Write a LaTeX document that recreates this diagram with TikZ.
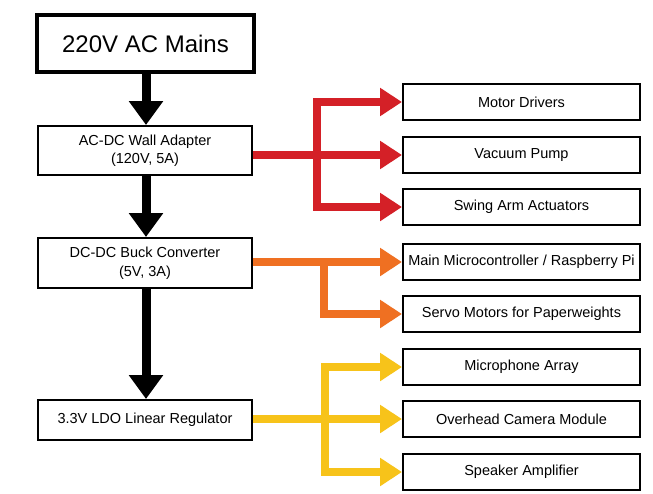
\documentclass[tikz,border=0pt]{standalone}
\usepackage{fontspec}
\setmainfont{Liberation Sans}
\usetikzlibrary{arrows.meta}
\definecolor{cred}{HTML}{D42027}
\definecolor{corange}{HTML}{EF7022}
\definecolor{cyellow}{HTML}{F7C31A}
\tikzset{
  box/.style={draw=black, line width=2pt, fill=white, inner sep=0pt, align=center, font=\fontsize{14.5}{18.5}\selectfont},
  rbox/.style={box, minimum width=237pt, minimum height=36pt},
  lbox/.style={box, minimum width=214pt},
  mainarrow/.style={line width=9pt, -{Triangle[width=33pt,length=24pt]}},
  feed/.style={line width=8pt, -{Triangle[width=27pt,length=22pt]}},
}
\begin{document}
\begin{tikzpicture}[x=1pt,y=-1pt]
\useasboundingbox[fill=white] (0,0) rectangle (653,493);
% left column
\node[box, line width=4pt, minimum width=217pt, minimum height=57pt, font=\fontsize{24}{29}\selectfont] (mains) at (145.5,43.5) {220V AC Mains};
\node[lbox, minimum height=49pt] (acdc) at (145,150.5) {AC-DC Wall Adapter\\(120V, 5A)};
\node[lbox, minimum height=50pt] (dcdc) at (145,263) {DC-DC Buck Converter\\(5V, 3A)};
\node[lbox, minimum height=40pt] (ldo) at (145,420) {3.3V LDO Linear Regulator};
% right column
\node[rbox] (motor) at (521.5,102) {Motor Drivers};
\node[rbox] (vac) at (521.5,155) {Vacuum Pump};
\node[rbox] (swing) at (521.5,207) {Swing Arm Actuators};
\node[rbox] (mcu) at (521.5,262) {Main Microcontroller / Raspberry Pi};
\node[rbox] (servo) at (521.5,314) {Servo Motors for Paperweights};
\node[rbox] (mic) at (521.5,367) {Microphone Array};
\node[rbox] (cam) at (521.5,419) {Overhead Camera Module};
\node[rbox] (spk) at (521.5,472) {Speaker Amplifier};
% black main arrows
\draw[mainarrow] (mains.south -| 146,0) -- (acdc.north -| 146,0);
\draw[mainarrow] (acdc.south -| 146,0) -- (dcdc.north -| 146,0);
\draw[mainarrow] (dcdc.south -| 146,0) -- (ldo.north -| 146,0);
% red branch
\draw[feed, cred] (acdc.east |- vac) -- (vac.west);
\draw[line width=8pt, cred] (317,98) -- (317,211);
\draw[feed, cred] (313,102) -- (motor.west);
\draw[feed, cred] (313,207) -- (swing.west);
% orange branch
\draw[feed, corange] (dcdc.east |- mcu) -- (mcu.west);
\draw[line width=8pt, corange] (324,262) -- (324,318);
\draw[feed, corange] (320,314) -- (servo.west);
% yellow branch
\draw[feed, cyellow] (ldo.east |- cam) -- (cam.west);
\draw[line width=8pt, cyellow] (325,363) -- (325,476);
\draw[feed, cyellow] (321,367) -- (mic.west);
\draw[feed, cyellow] (321,472) -- (spk.west);
\end{tikzpicture}
\end{document}
